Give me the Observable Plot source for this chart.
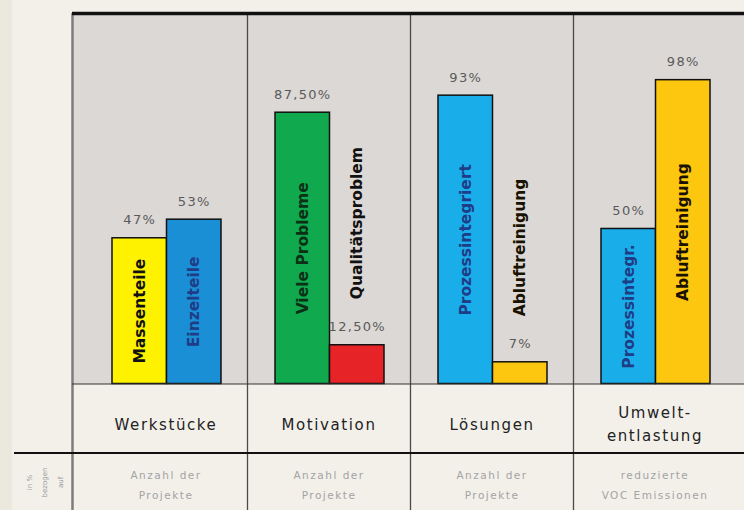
<!DOCTYPE html>
<html>
<head>
<meta charset="utf-8">
<script src="https://cdn.jsdelivr.net/npm/d3@7"></script>
<script src="https://cdn.jsdelivr.net/npm/@observablehq/plot@0.6"></script>
<style>
  html, body { margin: 0; padding: 0; background: #f2efe9; }
  #chart { width: 744px; height: 510px; overflow: hidden; }
</style>
</head>
<body>
<div id="chart"></div>
<script>
// ---- data ----
const groups = ["Werkstücke", "Motivation", "Lösungen", "Umwelt-\nentlastung"];
const measures = ["Anzahl der\nProjekte", "Anzahl der\nProjekte", "Anzahl der\nProjekte", "reduzierte\nVOC Emissionen"];

const seriesA = ["Massenteile", "Viele Probleme", "Prozessintegriert", "Prozessintegr."];
const valuesA = [47, 87.5, 93, 50];
const labelsA = ["47%", "87,50%", "93%", "50%"];

const seriesB = ["Einzelteile", "Qualitätsproblem", "Abluftreinigung", "Abluftreinigung"];
const valuesB = [53, 12.5, 7, 98];
const labelsB = ["53%", "12,50%", "7%", "98%"];

const barNames  = ["Massenteile", "Einzelteile", "Viele Probleme", "Qualitätsproblem", "Prozessintegriert", "Abluftreinigung", "Prozessintegr."];
const barColors = ["#fff200", "#1b8fd5", "#10a94e", "#e62327", "#19aeea", "#fdc60f", "#19aeea"];

const leftNote = ["in %\nbezogen\nauf"];

// ---- tables ----
const rowsA = groups.map((g, i) => ({group: g, name: seriesA[i], value: valuesA[i], label: labelsA[i]}));
const rowsB = groups.map((g, i) => ({group: g, name: seriesB[i], value: valuesB[i], label: labelsB[i]}));

const textInk = {
  "Massenteile": "#111",
  "Einzelteile": "#1f3c86",
  "Viele Probleme": "#0c2f16",
  "Qualitätsproblem": "#111",
  "Prozessintegriert": "#1f3c86",
  "Prozessintegr.": "#1f3c86",
  "Abluftreinigung": "#1a1200"
};

const yMax = 119.5;
const dxA = -26.25, dxB = 28.25;
const below = 126.5;

function barLabels(rows, dx) {
  return [
    Plot.text(rows.filter(d => d.value >= 30), {
      x: "group", y: d => d.value / 2, text: "name", dx, rotate: -90,
      textAnchor: "middle", lineAnchor: "middle",
      fontSize: 15.5, fontWeight: "bold", fill: d => textInk[d.name]
    }),
    Plot.text(rows.filter(d => d.value < 30), {
      x: "group", y: "value", text: "name", dx, dy: -46, rotate: -90,
      textAnchor: "start", lineAnchor: "middle",
      fontSize: 15.5, fontWeight: "bold", fill: d => textInk[d.name]
    }),
    Plot.text(rows, {
      x: "group", y: "value", text: "label", dx, dy: -18,
      lineAnchor: "middle", fontSize: 13, fill: "#5a5a5a"
    })
  ];
}

const chart = Plot.plot({
  width: 744,
  height: 510,
  marginLeft: 72,
  marginRight: 0,
  marginTop: 13,
  marginBottom: below,
  style: {
    background: "linear-gradient(to right, #ebe8de 12px, #f3f0ea 12px)",
    fontFamily: "DejaVu Sans, sans-serif",
    overflow: "visible"
  },
  x: {type: "band", domain: groups, range: [84, 736], padding: 0, axis: null},
  y: {domain: [0, yMax], axis: null},
  color: {domain: barNames, range: barColors},
  marks: [
    Plot.frame({fill: "#dcd8d5", stroke: null}),
    // panel dividers
    Plot.ruleX(groups.slice(1), {x: d => d, dx: -81.5, stroke: "#4a4a4a", strokeWidth: 1.3, insetBottom: -below}),
    Plot.ruleX([groups[0]], {x: d => d, dx: -93.5, stroke: "#7d7d7d", strokeWidth: 2.5, insetBottom: -below}),
    // bars
    Plot.barY(rowsA, {x: "group", y: "value", fill: "name", stroke: "#111", strokeWidth: 1.5, insetLeft: 28, insetRight: 80.5}),
    Plot.barY(rowsB, {x: "group", y: "value", fill: "name", stroke: "#111", strokeWidth: 1.5, insetLeft: 82.5, insetRight: 26}),
    // baseline, top line, table line
    Plot.ruleY([0], {stroke: "#333", strokeWidth: 1.2}),
    Plot.ruleY([yMax], {stroke: "#111", strokeWidth: 3.5}),
    Plot.ruleY([0], {dy: 69, insetLeft: -58, stroke: "#111", strokeWidth: 2}),
    ...barLabels(rowsA, dxA),
    ...barLabels(rowsB, dxB),
    // category labels
    Plot.text(groups, {x: d => d, frameAnchor: "bottom", dy: 38.5, text: d => d,
      lineAnchor: "middle", lineHeight: 1.53, fontSize: 15, fill: "#222"}),
    // measure labels
    Plot.text(groups.map((g, i) => ({g, m: measures[i]})), {x: "g", frameAnchor: "bottom", dy: 98.5, text: "m",
      lineAnchor: "middle", lineHeight: 1.9, fontSize: 10.5, fill: "#a3a3a3"}),
    // left note
    Plot.text(leftNote, {frameAnchor: "bottom-left", dx: -30, dy: 98.5, text: d => d, rotate: -90,
      lineAnchor: "middle", textAnchor: "middle", lineHeight: 2.2, fontSize: 7, fill: "#9a9a9a"})
  ]
});

// letter spacing to mimic the wide lettering of the reference
chart.querySelectorAll('g[font-size="15"]').forEach(g => g.setAttribute("letter-spacing", "1.6"));
chart.querySelectorAll('g[font-size="13"]').forEach(g => g.setAttribute("letter-spacing", "1.3"));
chart.querySelectorAll('g[font-size="10.5"]').forEach(g => g.setAttribute("letter-spacing", "1.5"));

document.getElementById("chart").appendChild(chart);
</script>
</body>
</html>
